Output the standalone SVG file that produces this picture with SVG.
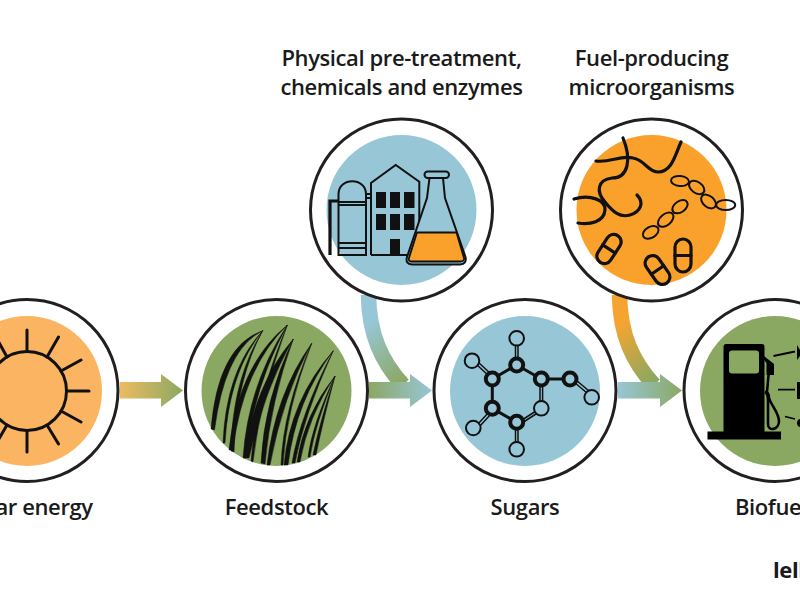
<svg xmlns="http://www.w3.org/2000/svg" width="800" height="600" viewBox="0 0 800 600">
<style>
.ring{fill:#fff;stroke:#231f20;stroke-width:3}
.lbl{font-family:"Open Sans","Liberation Sans",sans-serif;font-weight:600;font-size:22px;letter-spacing:-0.4px;fill:#1a1a1a}
.k{fill:none;stroke:#111;stroke-linecap:round;stroke-linejoin:round}
.s{fill:none;stroke:#111;stroke-width:3}
.b{fill:#111}
.gr{fill:#111;stroke:#111;stroke-width:0.500;stroke-linejoin:round}
.an{fill:#97c6d6;stroke:#111;stroke-width:2}
.at{fill:#97c6d6;stroke:#111;stroke-width:4}
</style>
<defs>
<linearGradient id="g1" gradientUnits="userSpaceOnUse" x1="120" y1="0" x2="183" y2="0"><stop offset="0" stop-color="#ecbb62"/><stop offset="1" stop-color="#8ba863"/></linearGradient>
<linearGradient id="g2" gradientUnits="userSpaceOnUse" x1="369" y1="0" x2="432" y2="0"><stop offset="0" stop-color="#8ba863"/><stop offset="1" stop-color="#97c6d6"/></linearGradient>
<linearGradient id="g3" gradientUnits="userSpaceOnUse" x1="618" y1="0" x2="682" y2="0"><stop offset="0" stop-color="#97c6d6"/><stop offset="1" stop-color="#8ba863"/></linearGradient>
<linearGradient id="g4" gradientUnits="userSpaceOnUse" x1="368" y1="325" x2="405" y2="380"><stop offset="0" stop-color="#97c6d6"/><stop offset="1" stop-color="#8ba863"/></linearGradient>
<linearGradient id="g5" gradientUnits="userSpaceOnUse" x1="618" y1="325" x2="655" y2="380"><stop offset="0" stop-color="#f5a52f"/><stop offset="1" stop-color="#8ba863"/></linearGradient>
</defs>
<rect width="800" height="600" fill="#fff"/>
<g id="connectors">
<path d="M368.500,295C369,335 382,362 403,385" fill="none" stroke="url(#g4)" stroke-width="15.500"/>
<path d="M619.500,295C620,335 633,362 654,385" fill="none" stroke="url(#g5)" stroke-width="15.500"/>
<path d="M120,382H161V374L183,390.500L161,407V398.500H120Z" fill="url(#g1)"/>
<path d="M369,382H410V374L432,390.500L410,407V398.500H369Z" fill="url(#g2)"/>
<path d="M618,382H660V374L682,390.500L660,407V398.500H618Z" fill="url(#g3)"/>
</g>
<g id="solar-energy">
<circle class="ring" cx="27" cy="390.500" r="91"/>
<circle cx="27" cy="391" r="75" fill="#fbb562"/>
<g class="s" stroke-linecap="round">
<circle cx="27" cy="391" r="39.500"/>
<path d="M27,351V330M47,357L58.500,337M61,371L81,360M67,391H89M61,411L81,422M47,425L58.500,444M27,431V452M7,425L-4,444M7,357L-4,337"/>
</g>
</g>
<g id="feedstock">
<circle class="ring" cx="276.500" cy="390.500" r="91"/>
<circle cx="276.500" cy="391" r="75" fill="#8ba863"/>
<g class="gr">
<path d="M211,429Q218,346 262.700,330.700Q225,349 214.500,430Z"/>
<path d="M223,443Q226,370 262.700,330.700Q229,372 225,443Z"/>
<path d="M231,451Q232,380 262.700,330.700Q236,380 234,452Z"/>
<path d="M229,450Q238,365 287.300,325Q243,368 233,450Z"/>
<path d="M243,458Q248,385 287.300,325Q253,388 246,458Z"/>
<path d="M251,461Q256,400 287.300,325Q260,400 253,462Z"/>
<path d="M244,458Q254,385 293.300,339Q265,388 249,458Z"/>
<path d="M261,463Q264,400 293.300,339Q271,400 265,464Z"/>
<path d="M267,465Q275,395 311.700,343.300Q283,396 270,465Z"/>
<path d="M281,465Q283,410 311.700,343.300Q286,410 283,465Z"/>
<path d="M284,465Q290,400 333.300,350.700Q296,400 288,465Z"/>
<path d="M292,463Q300,415 333.300,350.700Q304,415 295,463Z"/>
<path d="M297,462Q304,415 335,376Q308,417 300,462Z"/>
<path d="M308,457Q312,425 335,376Q315,425 310,457Z"/>
<path d="M313,455Q319,425 335,376Q322,425 316,455Z"/>
</g>
</g>
<g id="pre-treatment">
<circle class="ring" cx="401.500" cy="210" r="91"/>
<circle cx="401.500" cy="210" r="75" fill="#97c6d6"/>
<g class="s">
<path d="M338.500,255V194C338.500,177 366,177 366,194V255ZM338.500,202H366M338.500,205H366M338.500,243H366M338.500,248H366" stroke-width="2"/>
<path d="M330,255V201H338.500" stroke-width="3.200"/>
<path d="M366,194H371M366,198H371" stroke-width="2"/>
<path d="M371,255V183L395.700,165L419.300,181.700V225M371,255H410" stroke-width="2"/>
</g>
<g class="b">
<rect x="376" y="192" width="10" height="16"/><rect x="390" y="192" width="10" height="16"/><rect x="404" y="192" width="10.500" height="16"/>
<rect x="376" y="214" width="10" height="16"/><rect x="390" y="214" width="10" height="16"/><rect x="404" y="214" width="10.500" height="16"/>
<rect x="390" y="239" width="10" height="16"/>
</g>
<g>
<path d="M429.500,178L427,198L407,257Q405,264 412,264.500H460Q467,264 465.500,257L445,198L443,178Z" fill="#97c6d6" stroke="#111" stroke-width="2"/>
<path d="M417,232.500H456.500L464,258Q464.500,261.500 460,261.500H412Q408,261.500 409,258Z" fill="#f9a12a" stroke="#111" stroke-width="1.800"/>
<rect x="424.500" y="171.500" width="24.500" height="6.500" rx="3.200" fill="#97c6d6" stroke="#111" stroke-width="2"/>
</g>
</g>
<g id="microorganisms">
<circle class="ring" cx="651.500" cy="210" r="91"/>
<circle cx="651.500" cy="210" r="75" fill="#f9a12a"/>
<g class="k" stroke-width="3.200">
<path d="M623,138C632,160 628,178 612,178C597,180 596,192 605,202C613,212 620,218 630,215C640,212 645,203 637,195"/>
<path d="M596,161C610,163 620,155 633,158C645,160 648,172 658,172C672,172 675,155 681,142"/>
<path d="M574,199C590,194 606,200 605,210C604,222 590,225 578,223"/>
</g>
<g class="k" stroke-width="2">
<ellipse cx="680" cy="181" rx="9" ry="5" transform="rotate(5 680 181)"/>
<ellipse cx="696.700" cy="187.500" rx="8.500" ry="5.500" transform="rotate(35 696.700 187.500)"/>
<ellipse cx="708.500" cy="201.500" rx="8.500" ry="5.500" transform="rotate(40 708.500 201.500)"/>
<ellipse cx="725.700" cy="205" rx="9.500" ry="5"/>
<ellipse cx="650.700" cy="232.300" rx="8.500" ry="5.500" transform="rotate(-30 650.700 232.300)"/>
<ellipse cx="665.700" cy="219.700" rx="9" ry="5.500" transform="rotate(-40 665.700 219.700)"/>
<ellipse cx="680" cy="206.700" rx="8.500" ry="5.500" transform="rotate(-35 680 206.700)"/>
</g>
<g class="k" stroke-width="3.200">
<g transform="rotate(33 609 249)"><rect x="601.500" y="233" width="15" height="32" rx="7.500"/><path d="M601.500,249H616.500"/></g>
<g transform="rotate(-35 657.500 270)"><rect x="650" y="254" width="15" height="32" rx="7.500"/><path d="M650,270H665"/></g>
<rect x="675" y="239" width="16" height="33" rx="8"/><path d="M675,255.500H691"/>
</g>
</g>
<g id="sugars">
<circle class="ring" cx="525" cy="390.500" r="91"/>
<circle cx="525" cy="391" r="75" fill="#97c6d6"/>
<g class="s">
<path d="M516.700,365L541.300,379M541.300,379H570M516.700,365L492.300,379L492.300,408.300L516.700,422.300" stroke-width="3"/>
<g stroke-width="1.500">
<path d="M515.500,345V360M518,345V360M515.500,428V444M518,428V444"/>
<path d="M476,364L489,376M478,362L491,374M478,424L489,412M480,426L491,414"/>
<path d="M540,384V402M542.600,384V402M522,420L536,411M523.500,422L537.500,413"/>
<path d="M574,382L587,393M576,380L589,391"/>
</g>
</g>
<circle class="an" cx="516.700" cy="338.300" r="7.300"/>
<circle class="an" cx="472" cy="360.700" r="7.300"/>
<circle class="an" cx="473.300" cy="428" r="7.300"/>
<circle class="an" cx="516.700" cy="449.300" r="7.300"/>
<circle class="an" cx="541.300" cy="408.300" r="7.300"/>
<circle class="an" cx="591.700" cy="397.300" r="7.300"/>
<circle class="at" cx="516.700" cy="365" r="6.500"/>
<circle class="at" cx="541.300" cy="379" r="6.500"/>
<circle class="at" cx="570" cy="379" r="6.500"/>
<circle class="at" cx="492.300" cy="379" r="6.500"/>
<circle class="at" cx="492.300" cy="408.300" r="6.500"/>
<circle class="at" cx="516.700" cy="422.300" r="6.500"/>
</g>
<g id="biofuel">
<circle class="ring" cx="775" cy="390.500" r="91"/>
<circle cx="775" cy="391" r="75" fill="#8ba863"/>
<path d="M726,344H761.500Q764.500,344 764.500,347V432H723.500V347Q723.500,344 726,344Z" fill="#000"/>
<rect x="729" y="350.500" width="30" height="23" rx="3" fill="#8ba863"/>
<rect x="707.500" y="431.500" width="73.500" height="8" fill="#000"/>
<path d="M764,356L774,364V375H766.500L766.500,363L764,360Z" fill="#000"/>
<path d="M768.500,375L767,392M765,392Q769,392 769,398C771,405 779,413 779,421C779,430 768,432 768,424V400Q768,394 765,392" fill="none" stroke="#000" stroke-width="2.600"/>
<path d="M773.500,356L795,351.500M778,389.700H795M785,416.500L795,419" fill="none" stroke="#000" stroke-width="1.800"/>
<path d="M797,345L800,350V356L797,360Z" fill="#000"/>
<rect x="797" y="382" width="3" height="17" fill="#000"/>
<circle cx="801" cy="423" r="4" fill="#000"/>
</g>
<g id="labels">
<text class="lbl" x="-4.500" y="515">ar energy</text>
<text class="lbl" x="276.500" y="515" text-anchor="middle">Feedstock</text>
<text class="lbl" x="525" y="515" text-anchor="middle">Sugars</text>
<text class="lbl" x="735" y="515">Biofue</text>
<text class="lbl" x="401.500" y="66" text-anchor="middle">Physical pre-treatment,</text>
<text class="lbl" x="401.500" y="95" text-anchor="middle">chemicals and enzymes</text>
<text class="lbl" x="651.500" y="66" text-anchor="middle">Fuel-producing</text>
<text class="lbl" x="651.500" y="95" text-anchor="middle">microorganisms</text>
<text class="lbl" x="773" y="578" style="font-weight:700">lell</text>
</g>
</svg>
